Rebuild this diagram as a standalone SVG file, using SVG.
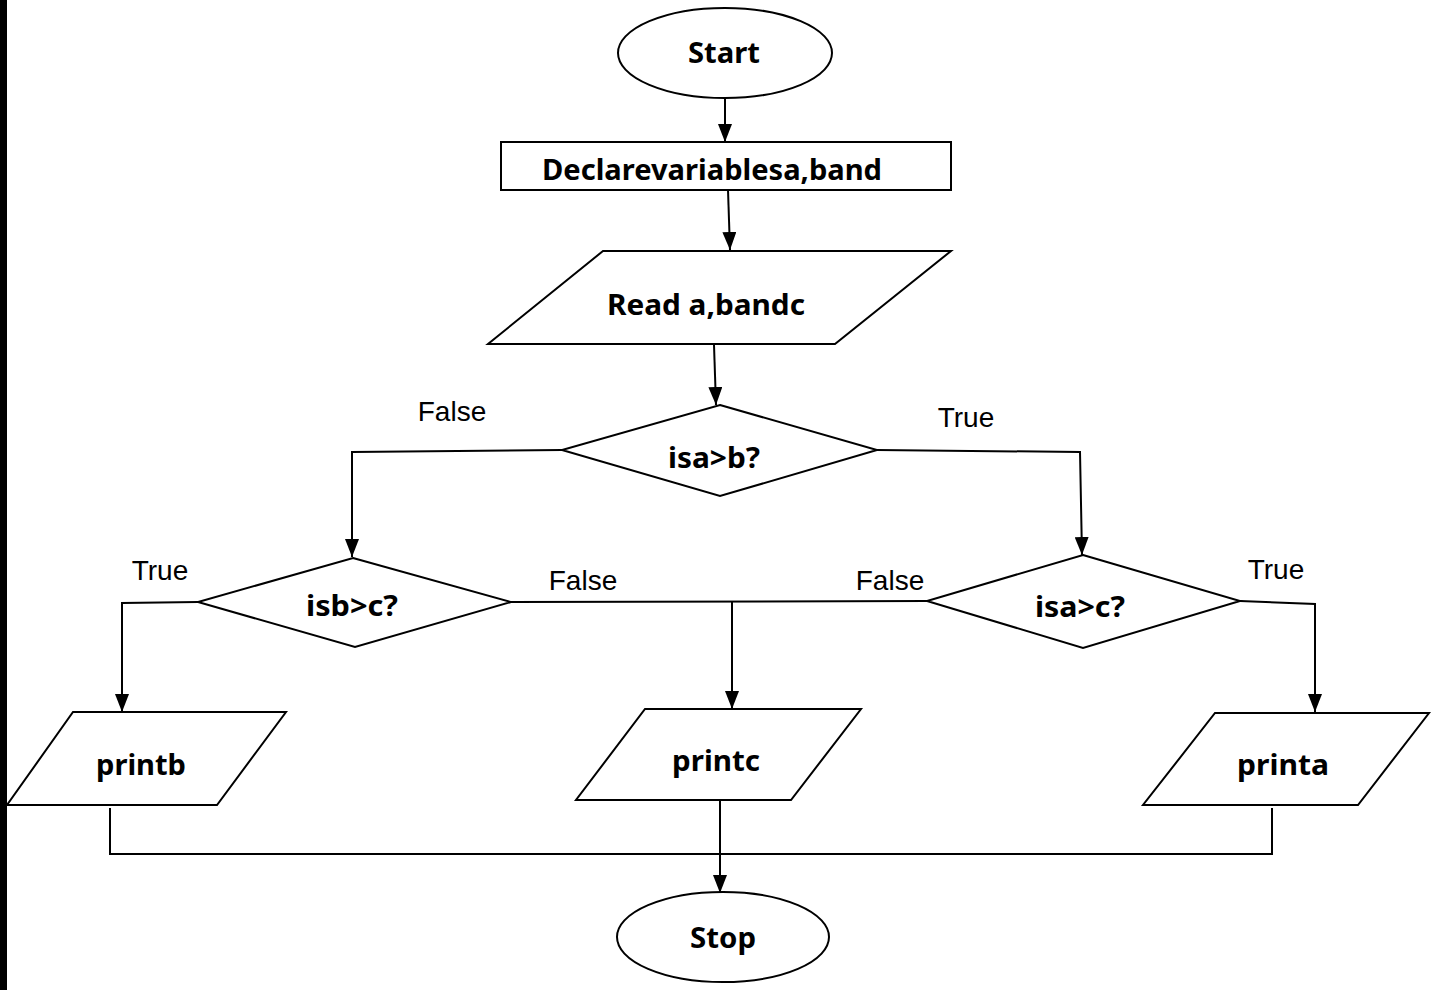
<svg xmlns="http://www.w3.org/2000/svg" width="1441" height="990" viewBox="0 0 1441 990">
<defs>
<marker id="arr" markerUnits="userSpaceOnUse" markerWidth="18" markerHeight="14" refX="18" refY="7" orient="auto" viewBox="0 0 18 14">
<path d="M0,0 L18,7 L0,14 Z" fill="#000"/>
</marker>
<style>
.shape{fill:#fff;stroke:#000;stroke-width:2}
.conn{fill:none;stroke:#000;stroke-width:2}
.b{font-family:"Noto Sans","Open Sans",sans-serif;font-weight:bold;font-size:29px;fill:#000;text-anchor:middle}
.l{font-family:"Liberation Sans",Arial,sans-serif;font-size:28px;fill:#000;text-anchor:middle}
</style>
</defs>
<rect x="0" y="0" width="1441" height="990" fill="#fff"/>
<rect x="0" y="0" width="7" height="990" fill="#000"/>

<g id="connectors">
<line class="conn" x1="725" y1="98" x2="725" y2="142" marker-end="url(#arr)"/>
<line class="conn" x1="728" y1="190" x2="730" y2="250" marker-end="url(#arr)"/>
<line class="conn" x1="714" y1="345" x2="716" y2="405" marker-end="url(#arr)"/>
<polyline class="conn" points="562,450 352,452 352,557" marker-end="url(#arr)"/>
<polyline class="conn" points="877,450 1080,452 1082,555" marker-end="url(#arr)"/>
<polyline class="conn" points="198,602 122,603 122,712" marker-end="url(#arr)"/>
<line class="conn" x1="511" y1="602" x2="927" y2="601"/>
<line class="conn" x1="732" y1="601" x2="732" y2="709" marker-end="url(#arr)"/>
<polyline class="conn" points="1240,601 1315,604 1315,712" marker-end="url(#arr)"/>
<polyline class="conn" points="110,808 110,854 1272,854 1272,808"/>
<line class="conn" x1="720" y1="800" x2="720" y2="893" stroke-width="3" marker-end="url(#arr)"/>
<text class="l" x="452" y="421">False</text>
<text class="l" x="966" y="427">True</text>
<text class="l" x="160" y="580">True</text>
<text class="l" x="583" y="590">False</text>
<text class="l" x="890" y="590">False</text>
<text class="l" x="1276" y="579">True</text>
</g>

<g id="start">
<ellipse class="shape" cx="725" cy="53" rx="107" ry="45"/>
<text class="b" x="724" y="63" textLength="72" lengthAdjust="spacingAndGlyphs">Start</text>
</g>
<g id="declare">
<rect class="shape" x="501" y="142" width="450" height="48"/>
<text class="b" x="712" y="180" textLength="340" lengthAdjust="spacingAndGlyphs">Declarevariablesa,band</text>
</g>
<g id="read">
<polygon class="shape" points="603,251 951,251 835,344 488,344"/>
<text class="b" x="706" y="315" textLength="198" lengthAdjust="spacingAndGlyphs">Read a,bandc</text>
</g>
<g id="d1">
<polygon class="shape" points="720,405 877,450 720,496 562,450"/>
<text class="b" x="714" y="468" textLength="92" lengthAdjust="spacingAndGlyphs">isa&gt;b?</text>
</g>
<g id="d2">
<polygon class="shape" points="353,558 511,602 355,647 198,602"/>
<text class="b" x="352" y="616" textLength="92" lengthAdjust="spacingAndGlyphs">isb&gt;c?</text>
</g>
<g id="d3">
<polygon class="shape" points="1083,555 1240,601 1083,648 927,601"/>
<text class="b" x="1080" y="617" textLength="90" lengthAdjust="spacingAndGlyphs">isa&gt;c?</text>
</g>
<g id="printb">
<polygon class="shape" points="73,712 286,712 217,805 7,805"/>
<text class="b" x="141" y="775" textLength="90" lengthAdjust="spacingAndGlyphs">printb</text>
</g>
<g id="printc">
<polygon class="shape" points="645,709 861,709 791,800 576,800"/>
<text class="b" x="716" y="771" textLength="88" lengthAdjust="spacingAndGlyphs">printc</text>
</g>
<g id="printa">
<polygon class="shape" points="1215,713 1429,713 1358,805 1143,805"/>
<text class="b" x="1283" y="775" textLength="92" lengthAdjust="spacingAndGlyphs">printa</text>
</g>
<g id="stop">
<ellipse class="shape" cx="723" cy="937" rx="106" ry="45"/>
<text class="b" x="723" y="948" textLength="66" lengthAdjust="spacingAndGlyphs">Stop</text>
</g>
</svg>
